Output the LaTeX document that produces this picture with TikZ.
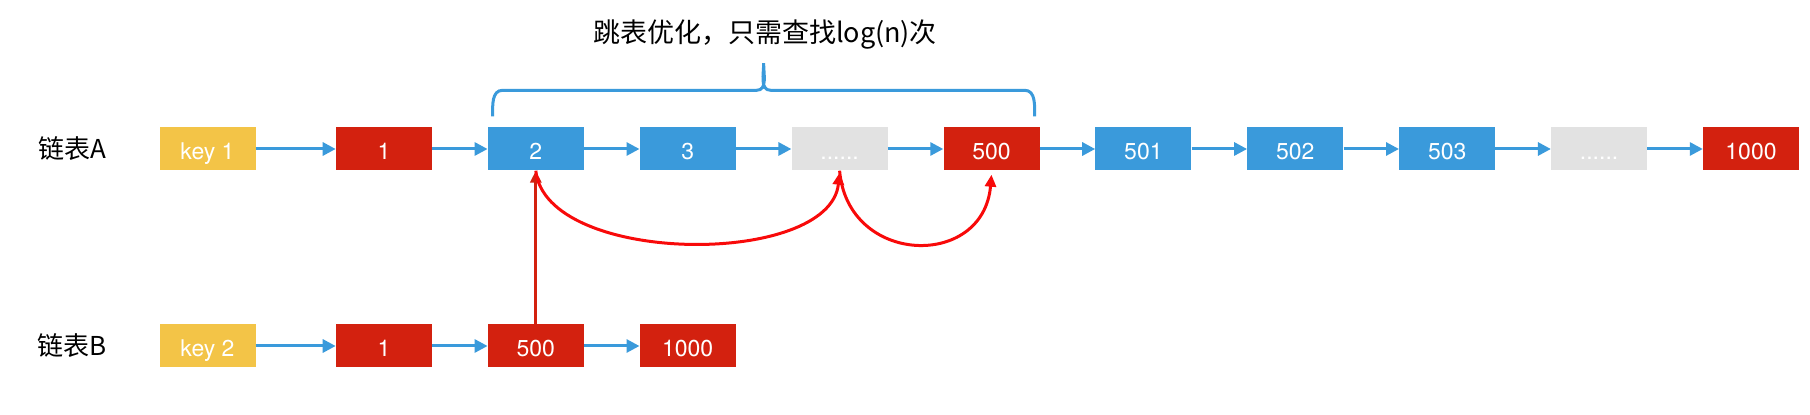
\documentclass[tikz,border=0pt]{standalone}
\usepackage{fontspec}
\setmainfont{TeX Gyre Heros}
\newfontfamily\cjkfont{Noto Sans CJK SC}
\usetikzlibrary{arrows.meta}
\usetikzlibrary{positioning}
\usetikzlibrary{calc}
\definecolor{keyyellow}{HTML}{F3C447}
\definecolor{hitred}{HTML}{D3210F}
\definecolor{cellblue}{HTML}{3A9ADB}
\definecolor{gapgray}{HTML}{E2E2E2}
\definecolor{jumpred}{HTML}{F80A0A}
\tikzset{cell/.style = {minimum width=96pt, minimum height=43pt, inner sep=0pt,
                        text height=22pt, text depth=0pt,
                        text=white, font=\fontsize{23}{26}\selectfont},
         keycell/.style = {cell, fill=keyyellow},
         hitcell/.style = {cell, fill=hitred},
         bluecell/.style = {cell, fill=cellblue},
         gapcell/.style = {cell, fill=gapgray},
         listname/.style = {font=\cjkfont\fontsize{26}{29}\selectfont},
         link/.style = {draw=cellblue, line width=3pt,
                        -{Triangle[length=13pt,width=13pt]}},
         jump/.style = {draw=jumpred, line width=3pt,
                        -{Triangle[length=12pt,width=11pt]}}}

\begin{document}
\begin{tikzpicture}[x=1pt,y=1pt]
  \useasboundingbox (0,0) rectangle (1810,415);

  % list A
  \node [listname] (nameA) at (72,266) {链表A};
  \node [keycell] (ka) at (207.5,266) {key 1};
  \node [hitcell, right=80pt of ka] (a1) {1};
  \node [bluecell, right=55.5pt of a1] (a2) {2};
  \node [bluecell, right=55.5pt of a2] (a3) {3};
  \node [gapcell, right=55.5pt of a3] (ad) {......};
  \node [hitcell, right=55.5pt of ad] (a500) {500};
  \node [bluecell, right=55.5pt of a500] (a501) {501};
  \node [bluecell, right=55.5pt of a501] (a502) {502};
  \node [bluecell, right=55.5pt of a502] (a503) {503};
  \node [gapcell, right=55.5pt of a503] (ae) {......};
  \node [hitcell, right=55.5pt of ae] (a1000) {1000};

  \foreach \u/\v in {ka/a1,a1/a2,a2/a3,a3/ad,ad/a500,a500/a501,a501/a502,
                     a502/a503,a503/ae,ae/a1000} {
    \draw [link] (\u) -- (\v);
  }

  % list B
  \node [listname] (nameB) at (72,69) {链表B};
  \node [keycell] (kb) at (207.5,69) {key 2};
  \node [hitcell, right=80pt of kb] (b1) {1};
  \node [hitcell, right=55.5pt of b1] (b500) {500};
  \node [hitcell, right=55.5pt of b500] (b1000) {1000};

  \foreach \u/\v in {kb/b1,b1/b500,b500/b1000} {
    \draw [link] (\u) -- (\v);
  }

  % brace and note
  \coordinate [above=11pt of a2.north west] (bl);
  \coordinate [above=11pt of a500.north east] (br);
  \coordinate (bm) at ($(bl)!0.5!(br)$);
  \draw [cellblue, line width=3pt]
    ($(bl)+(5,0)$) to[out=90,in=180] ($(bl)+(15,26)$)
    -- ($(bm)+(-7,26)$) to[out=0,in=-90] ($(bm)+(0,53)$)
    to[out=-90,in=180] ($(bm)+(7,26)$)
    -- ($(br)+(-15,26)$) to[out=0,in=90] ($(br)+(-5,0)$);
  \node [font=\cjkfont\fontsize{27}{30}\selectfont] (note) at (765,380)
    {跳表优化，只需查找log(n)次};

  % jumps
  \draw [draw=hitred, line width=3pt, -{Triangle[length=12pt,width=11pt]}]
    (b500.north) -- (a2.south);
  \draw [jump] (a2.south) .. controls +(10,-95) and +(-10,-95) .. ($(ad.south)+(0,-2)$);
  \draw [jump] (ad.south) .. controls +(8,-95) and +(-8,-95) .. ($(a500.south)+(0,-4)$);
\end{tikzpicture}
\end{document}
